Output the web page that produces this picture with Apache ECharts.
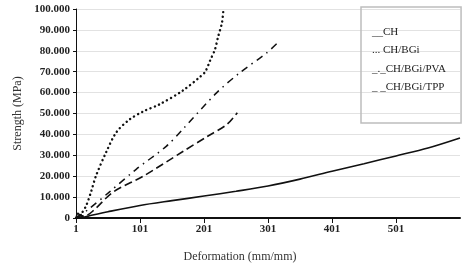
<!DOCTYPE html>
<html>
<head>
<meta charset="utf-8">
<script src="https://cdn.jsdelivr.net/npm/echarts@6/dist/echarts.min.js"></script>
<style>
  html, body { margin: 0; padding: 0; background: #fff; }
  #chart { width: 469px; height: 268px; }
</style>
</head>
<body>
<div id="chart"></div>
<script>
// values
const xTicks = [1, 101, 201, 301, 401, 501];

const chX = [1, 4, 8, 14, 21, 51, 101, 151, 201, 251, 301, 351, 401, 451, 501, 551, 601];
const chY = [0, 2.2, 1, 0.5, 1, 3, 6, 8.3, 10.5, 12.8, 15.3, 18.6, 22.4, 26, 29.7, 33.5, 38.3];

const bgiX = [1, 9, 17, 25, 32, 48, 64, 84, 106, 131, 168, 195, 203, 211, 218, 223, 229, 231];
const bgiY = [0, 2, 6, 13, 20, 31.4, 41, 47, 51, 54.3, 61, 67.6, 70, 75.7, 80.5, 86.7, 93.3, 98.5];

const pvaX = [1, 8, 21, 53, 95, 142, 168, 221, 257, 299, 315];
const pvaY = [0, 1.5, 4.3, 12.4, 23.3, 34.3, 42.5, 60, 69.5, 79, 83.5];

const tppX = [1, 8, 15, 28, 59, 106, 168, 206, 237, 253];
const tppY = [0, 1, 1, 3.5, 12.4, 20, 31.8, 39, 44.8, 50.4];

const names = ['CH', 'CH/BGi', 'CH/BGi/PVA', 'CH/BGi/TPP'];
const prefixes = { 'CH': '__', 'CH/BGi': '... ', 'CH/BGi/PVA': '_._', 'CH/BGi/TPP': '_ _' };

const pairs = (xs, ys) => xs.map((x, i) => [x, ys[i]]);

const serif = '"Liberation Serif", "DejaVu Serif", serif';

const chart = echarts.init(document.getElementById('chart'));

const option = {
  animation: false,
  textStyle: { fontFamily: serif, color: '#222' },
  grid: { left: 76, right: 9, top: 9, bottom: 49 },
  legend: {
    orient: 'vertical',
    left: 361,
    top: 7,
    icon: 'none',
    itemWidth: 0,
    itemHeight: 14,
    itemGap: 6,
    padding: [18, 15, 30, 6],
    borderColor: '#bdbdbd',
    borderWidth: 1.5,
    data: names,
    textStyle: { fontFamily: serif, fontSize: 11, color: '#222' },
    formatter: n => prefixes[n] + n
  },
  xAxis: {
    type: 'value',
    min: 1,
    max: 601,
    name: 'Deformation (mm/mm)',
    nameLocation: 'middle',
    nameGap: 33,
    nameTextStyle: { fontFamily: serif, fontSize: 12, color: '#333', padding: [0, 56, 0, 0] },
    axisLine: { lineStyle: { color: '#111', width: 2 } },
    axisTick: { customValues: xTicks, length: 5, lineStyle: { color: '#111' } },
    axisLabel: {
      customValues: xTicks,
      fontFamily: serif, fontWeight: 'bold', fontSize: 11, color: '#222', margin: 6
    },
    splitLine: { show: false }
  },
  yAxis: {
    type: 'value',
    min: 0,
    max: 100,
    interval: 10,
    name: 'Strength (MPa)',
    nameLocation: 'middle',
    nameGap: 52,
    nameTextStyle: { fontFamily: serif, fontSize: 12, color: '#333' },
    axisLine: { show: true, lineStyle: { color: '#111', width: 1 } },
    axisTick: { show: true, length: 3, lineStyle: { color: '#111' } },
    axisLabel: {
      fontFamily: serif, fontWeight: 'bold', fontSize: 11, color: '#222', margin: 6,
      formatter: v => v === 0 ? '0' : v.toFixed(3)
    },
    splitLine: { lineStyle: { color: '#e2e2e2', width: 1 } }
  },
  series: [
    {
      name: 'CH', type: 'line', smooth: 0.3, symbol: 'none',
      data: pairs(chX, chY),
      lineStyle: { color: '#111', width: 1.6 }
    },
    {
      name: 'CH/BGi', type: 'line', smooth: 0.3, symbol: 'none',
      data: pairs(bgiX, bgiY),
      lineStyle: { color: '#111', width: 2.4, type: [0.1, 4.5], cap: 'round' }
    },
    {
      name: 'CH/BGi/PVA', type: 'line', smooth: 0.3, symbol: 'none',
      data: pairs(pvaX, pvaY),
      lineStyle: { color: '#111', width: 1.5, type: [7, 5, 1.5, 5] }
    },
    {
      name: 'CH/BGi/TPP', type: 'line', smooth: 0.3, symbol: 'none',
      data: pairs(tppX, tppY),
      lineStyle: { color: '#111', width: 1.6, type: [8, 4] }
    }
  ]
};

chart.setOption(option);
</script>
</body>
</html>
